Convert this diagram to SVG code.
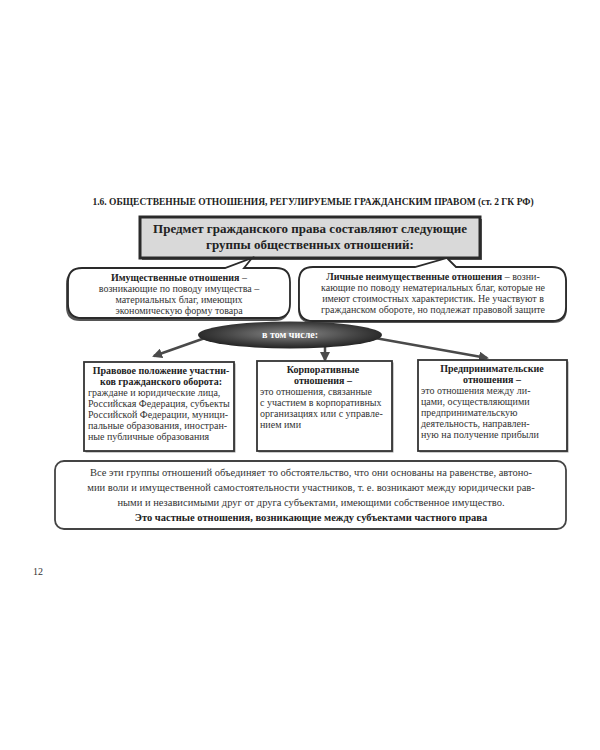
<svg xmlns="http://www.w3.org/2000/svg" width="600" height="750" viewBox="0 0 600 750">
<defs>
<style>
text{font-family:"Liberation Serif","Times New Roman",serif;fill:#333}
.b{font-weight:bold;fill:#222}
.t{font-size:10px}
.m{text-anchor:middle}
.box{fill:#fff;stroke:#333;stroke-width:1.8}
.bub{fill:#fff;stroke:#2a2a2a;stroke-width:1.8}
.shd{fill:#555}
.bsh{fill:#999}
.con{stroke:#4a4a4a;stroke-width:2.5;fill:none;marker-end:url(#ah)}
</style>
<marker id="ah" viewBox="0 0 10 10" refX="8" refY="5" markerWidth="4" markerHeight="4" orient="auto">
<path d="M0 0 L10 5 L0 10 Z" fill="#4a4a4a"/>
</marker>
<radialGradient id="eg" cx="0.5" cy="0.45" r="0.6">
<stop offset="0" stop-color="#8a8a8a"/>
<stop offset="0.6" stop-color="#444"/>
<stop offset="1" stop-color="#1a1a1a"/>
</radialGradient>
</defs>
<rect width="600" height="750" fill="#fff"/>

<text id="title" class="b" x="313" y="205" text-anchor="middle" font-size="9.5">1.6. ОБЩЕСТВЕННЫЕ ОТНОШЕНИЯ, РЕГУЛИРУЕМЫЕ ГРАЖДАНСКИМ ПРАВОМ (ст. 2 ГК РФ)</text>

<g id="subject">
<rect x="142" y="219" width="340" height="41" fill="#666"/>
<rect x="140" y="217" width="340" height="41" fill="#d9d9d9" stroke="#2a2a2a" stroke-width="3"/>
<text class="b m" x="310" y="233" font-size="13">Предмет гражданского права составляют следующие</text>
<text class="b m" x="310" y="249" font-size="13">группы общественных отношений:</text>
</g>

<g id="property">
<path class="shd" d="M80 270 L276 270 Q289 270 289 284 L289 307 Q289 321 275 321 L80 321 Q66 321 66 307 L66 284 Q66 270 80 270 Z"/>
<path class="bub" d="M82 268 L225 268 L252 258 L244 268 L276 268 Q290 268 290 282 L290 304 Q290 318 276 318 L82 318 Q68 318 68 304 L68 282 Q68 268 82 268 Z"/>
<text class="t m" x="179" y="281"><tspan class="b">Имущественные отношения</tspan> –</text>
<text class="t m" x="179" y="292">возникающие по поводу имущества –</text>
<text class="t m" x="179" y="303">материальных благ, имеющих</text>
<text class="t m" x="179" y="314">экономическую форму товара</text>
</g>

<g id="personal">
<path class="shd" d="M312 269 L553 269 Q567 269 567 283 L567 309 Q567 323 553 323 L312 323 Q298 323 298 309 L298 283 Q298 269 312 269 Z"/>
<path class="bub" d="M313 267 L415 267 L447 258 L456 267 L552 267 Q566 267 566 281 L566 307 Q566 321 552 321 L313 321 Q299 321 299 307 L299 281 Q299 267 313 267 Z"/>
<text class="t m" x="433" y="280"><tspan class="b">Личные неимущественные отношения</tspan> – возни-</text>
<text class="t m" x="433" y="291">кающие по поводу нематериальных благ, которые не</text>
<text class="t m" x="433" y="302">имеют стоимостных характеристик. Не участвуют в</text>
<text class="t m" x="433" y="313">гражданском обороте, но подлежат правовой защите</text>
</g>

<g id="connectors">
<path class="con" d="M205 338 L154 356"/>
<path class="con" d="M325 347 L325 360"/>
<path class="con" d="M375 338 L487 358"/>
</g>

<g id="including">
<ellipse cx="290" cy="335" rx="92" ry="13.5" fill="url(#eg)"/>
<text class="b m" x="290" y="338" font-size="10" style="fill:#fff">в том числе:</text>
</g>

<g id="legal-status">
<rect class="bsh" x="85.5" y="363.5" width="150" height="89"/>
<rect class="box" x="84" y="362" width="150" height="89"/>
<text class="t b m" x="161" y="374">Правовое положение участни-</text>
<text class="t b m" x="161" y="385">ков гражданского оборота:</text>
<text class="t" x="88" y="396">граждане и юридические лица,</text>
<text class="t" x="88" y="407">Российская Федерация, субъекты</text>
<text class="t" x="88" y="418">Российской Федерации, муници-</text>
<text class="t" x="88" y="429">пальные образования, иностран-</text>
<text class="t" x="88" y="440">ные публичные образования</text>
</g>

<g id="corporate">
<rect class="bsh" x="258.5" y="362.5" width="135" height="90"/>
<rect class="box" x="257" y="361" width="135" height="90"/>
<text class="t b m" x="323" y="373">Корпоративные</text>
<text class="t b m" x="323" y="384">отношения –</text>
<text class="t" x="260" y="395">это отношения, связанные</text>
<text class="t" x="260" y="406">с участием в корпоративных</text>
<text class="t" x="260" y="417">организациях или с управле-</text>
<text class="t" x="260" y="428">нием ими</text>
</g>

<g id="entrepreneurial">
<rect class="bsh" x="419.5" y="361.5" width="149" height="91"/>
<rect class="box" x="418" y="360" width="149" height="91"/>
<text class="t b m" x="492" y="372">Предпринимательские</text>
<text class="t b m" x="492" y="383">отношения –</text>
<text class="t" x="421" y="394">это отношения между ли-</text>
<text class="t" x="421" y="405">цами, осуществляющими</text>
<text class="t" x="421" y="416">предпринимательскую</text>
<text class="t" x="421" y="427">деятельность, направлен-</text>
<text class="t" x="421" y="438">ную на получение прибыли</text>
</g>

<g id="summary">
<rect x="55" y="461" width="511" height="68" rx="9" fill="#fff" stroke="#444" stroke-width="1.8"/>
<text class="m" x="311" y="476" font-size="10.5">Все эти группы отношений объединяет то обстоятельство, что они основаны на равенстве, автоно-</text>
<text class="m" x="311" y="491" font-size="10.5">мии воли и имущественной самостоятельности участников, т. е. возникают между юридически рав-</text>
<text class="m" x="311" y="506" font-size="10.5">ными и независимыми друг от друга субъектами, имеющими собственное имущество.</text>
<text class="b m" x="311" y="521" font-size="10.5">Это частные отношения, возникающие между субъектами частного права</text>
</g>

<text id="page" x="33" y="575" font-size="10">12</text>
</svg>
